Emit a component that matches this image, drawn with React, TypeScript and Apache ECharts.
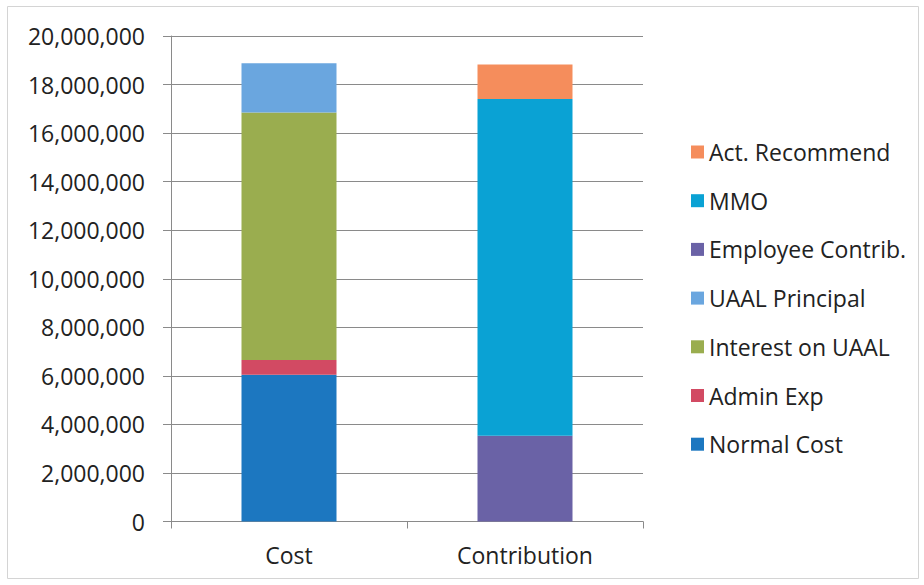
import React, { useEffect, useRef } from "react";
import * as echarts from "echarts";

const categories = ["Cost", "Contribution"];
const seriesNames = [
  "Normal Cost",
  "Admin Exp",
  "Interest on UAAL",
  "UAAL Principal",
  "Employee Contrib.",
  "MMO",
  "Act. Recommend",
];
const normalCost = [6050000, 0];
const adminExp = [600000, 0];
const interestOnUAAL = [10200000, 0];
const uaalPrincipal = [2030000, 0];
const employeeContrib = [0, 3530000];
const mmo = [0, 13870000];
const actRecommend = [0, 1430000];
const seriesValues = [normalCost, adminExp, interestOnUAAL, uaalPrincipal, employeeContrib, mmo, actRecommend];
const colors = ["#1c77c0", "#d24a63", "#9aad4f", "#6aa6df", "#6a62a6", "#0aa2d4", "#f58d5c"];
const yTicks = { min: 0, max: 20000000, interval: 2000000 };

const FONT = "Open Sans";

export default function App() {
  const ref = useRef<HTMLDivElement>(null);
  useEffect(() => {
    if (!ref.current) return;
    const chart = echarts.init(ref.current, undefined, { renderer: "svg" });
    chart.setOption({
      animation: false,
      backgroundColor: "#ffffff",
      graphic: [
        {
          type: "rect",
          shape: { x: 7.5, y: 6.5, width: 911, height: 572 },
          style: { fill: "none", stroke: "#d4d4d4", lineWidth: 1 },
          silent: true,
        },
      ],
      grid: { left: 171, right: 281, top: 36, bottom: 63.5, containLabel: false },
      legend: {
        orient: "vertical",
        left: 686,
        top: 135,
        itemWidth: 13,
        itemHeight: 13,
        itemGap: 24.7,
        icon: "rect",
        data: seriesNames.slice().reverse(),
        textStyle: { fontFamily: FONT, fontSize: 23, color: "#222", lineHeight: 24, padding: [0, 0, 0, 0] },
      },
      xAxis: {
        type: "category",
        data: categories,
        axisLine: { lineStyle: { color: "#8a8a8a", width: 1 } },
        axisTick: { show: true, length: 7, lineStyle: { color: "#8a8a8a" } },
        axisLabel: { fontFamily: FONT, fontSize: 23, color: "#222", margin: 22 },
      },
      yAxis: {
        type: "value",
        min: yTicks.min,
        max: yTicks.max,
        interval: yTicks.interval,
        axisLine: { show: true, lineStyle: { color: "#8a8a8a", width: 1 } },
        axisTick: { show: true, length: 8, lineStyle: { color: "#8a8a8a" } },
        splitLine: { lineStyle: { color: "#8a8a8a", width: 1 } },
        axisLabel: {
          fontFamily: FONT,
          fontSize: 23,
          color: "#222",
          margin: 26,
          formatter: (v: number) => v.toLocaleString("en-US"),
        },
      },
      series: seriesNames.map((name, i) => ({
        name,
        type: "bar",
        stack: "total",
        barWidth: 95,
        data: seriesValues[i].map((v) => (v === 0 ? null : v)),
        itemStyle: { color: colors[i] },
      })),
    });
    return () => chart.dispose();
  }, []);
  return <div ref={ref} style={{ width: 924, height: 585, position: "absolute", left: 0, top: 0 }} />;
}
